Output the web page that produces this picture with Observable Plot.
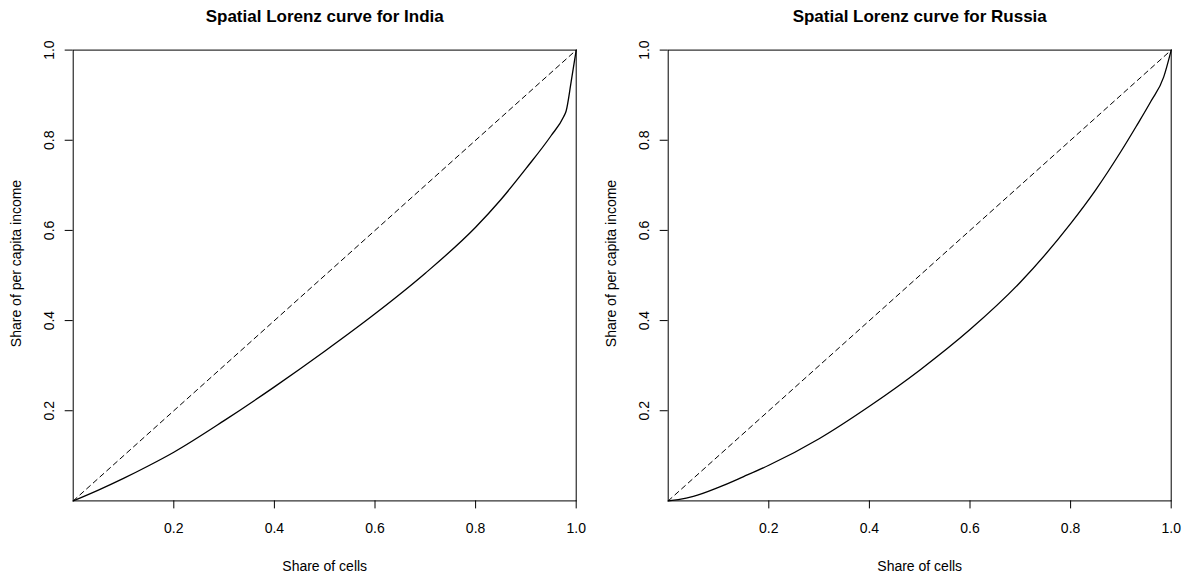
<!DOCTYPE html>
<html>
<head>
<meta charset="utf-8">
<script src="https://cdn.jsdelivr.net/npm/d3@7"></script>
<script src="https://cdn.jsdelivr.net/npm/@observablehq/plot@0.6"></script>
<style>
  html, body { margin: 0; padding: 0; background: #fff; overflow: hidden; }
  #wrap { position: relative; width: 1183px; height: 575px; }
  #wrap > div { position: absolute; top: 0; }
</style>
</head>
<body>
<div id="wrap"><div id="left"></div><div id="right"></div></div>
<script>
// ---- data ----
const titles = ["Spatial Lorenz curve for India", "Spatial Lorenz curve for Russia"];
const xLabel = "Share of cells";
const yLabel = "Share of per capita income";
const tickValues = [0.2, 0.4, 0.6, 0.8, 1.0];
const equalityP = [0, 1];
const equalityL = [0, 1];

const indiaP = [0, 0.05, 0.1, 0.15, 0.2, 0.3, 0.4, 0.5, 0.6, 0.7, 0.8, 0.85, 0.9, 0.95, 0.975, 0.98, 0.99, 1];
const indiaL = [0, 0.024, 0.05, 0.078, 0.108, 0.178, 0.253, 0.332, 0.415, 0.505, 0.607, 0.668, 0.737, 0.81, 0.852, 0.865, 0.93, 1];

const russiaP = [0, 0.02, 0.05, 0.1, 0.15, 0.2, 0.3, 0.4, 0.5, 0.6, 0.7, 0.8, 0.85, 0.9, 0.93, 0.96, 0.985, 1];
const russiaL = [0, 0.003, 0.01, 0.03, 0.054, 0.079, 0.138, 0.21, 0.29, 0.38, 0.485, 0.615, 0.69, 0.775, 0.83, 0.887, 0.94, 1];

const FONT = "'Liberation Sans', Arial, Helvetica, sans-serif";

function panel(title, P, L, ml, mr, w) {
  const pts = P.map((p, i) => ({p, l: L[i]}));
  const eq = equalityP.map((p, i) => ({p, l: equalityL[i]}));
  return Plot.plot({
    width: w,
    height: 575,
    marginLeft: ml,
    marginRight: mr,
    marginTop: 49.6,
    marginBottom: 74.6,
    style: {fontFamily: FONT, fontSize: "14px", background: "white", color: "black"},
    x: {domain: [0, 1], nice: false},
    y: {domain: [0, 1], nice: false},
    marks: [
      Plot.frame({stroke: "black", strokeWidth: 1}),
      Plot.axisX({ticks: tickValues, tickSize: 8, tickPadding: 14, tickFormat: d => d.toFixed(1), label: null, fontSize: 14}),
      Plot.axisY({ticks: tickValues, tickSize: 8, tickFormat: () => "", label: null}),
      Plot.text(tickValues, {y: d => d, frameAnchor: "left", text: d => d.toFixed(1), rotate: -90, dx: -23.5, textAnchor: "middle", lineAnchor: "middle", fontSize: 14}),
      Plot.text([yLabel], {frameAnchor: "left", text: d => d, rotate: -90, dx: -57, dy: -12, textAnchor: "middle", lineAnchor: "middle", fontSize: 14}),
      Plot.text([xLabel], {frameAnchor: "bottom", text: d => d, dy: 66, textAnchor: "middle", lineAnchor: "middle", fontSize: 14}),
      Plot.text([title], {frameAnchor: "top", text: d => d, dy: -34, textAnchor: "middle", lineAnchor: "middle", fontSize: 17, fontWeight: "bold"}),
      Plot.line(eq, {x: "p", y: "l", stroke: "black", strokeWidth: 1, strokeDasharray: "5,4"}),
      Plot.line(pts, {x: "p", y: "l", stroke: "black", strokeWidth: 1.3, curve: "monotone-x"})
    ]
  });
}

const left = document.getElementById("left");
left.style.left = "0px";
left.appendChild(panel(titles[0], indiaP, indiaL, 72.7, 15.3, 591));
const right = document.getElementById("right");
right.style.left = "591px";
right.appendChild(panel(titles[1], russiaP, russiaL, 76.7, 12.3, 592));
</script>
</body>
</html>
